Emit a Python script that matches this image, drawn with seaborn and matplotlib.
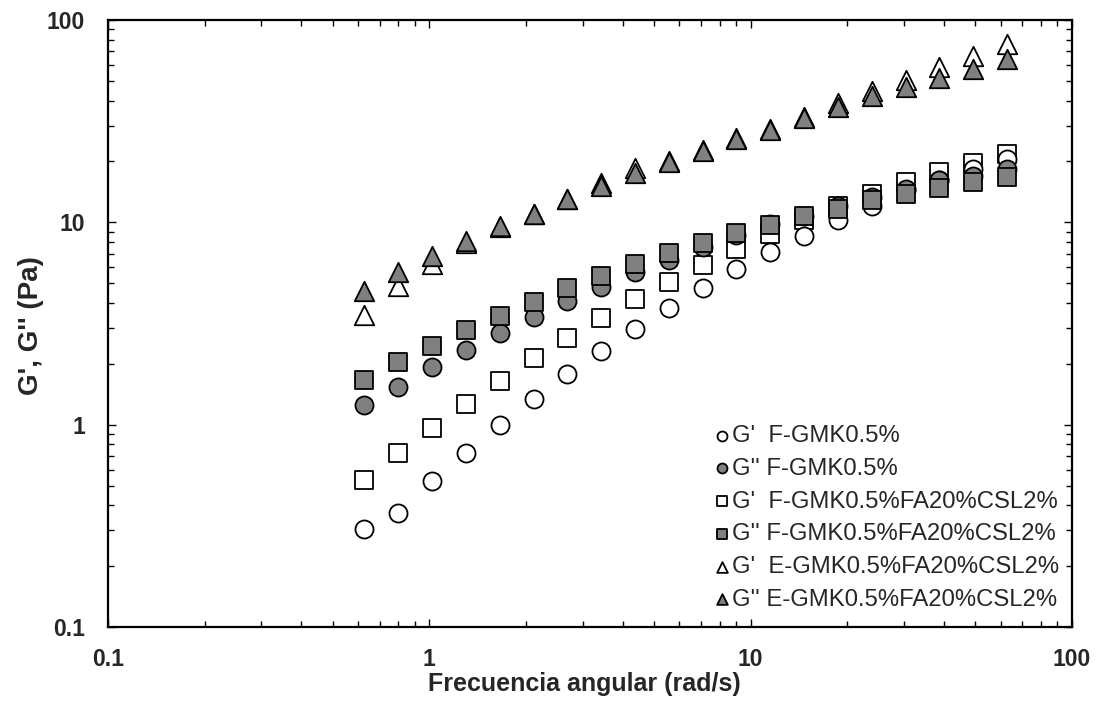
import matplotlib
matplotlib.use("Agg")
import matplotlib.pyplot as plt
import seaborn as sns
from matplotlib.ticker import FixedLocator, FixedFormatter, NullFormatter, LogLocator

# ---- data ----
freq = [0.628, 0.800, 1.020, 1.299, 1.656, 2.110, 2.689, 3.426, 4.366, 5.563,
        7.089, 9.033, 11.51, 14.67, 18.69, 23.82, 30.35, 38.67, 49.28, 62.8]

gp_f = [0.304, 0.364, 0.525, 0.728, 1.00, 1.34, 1.77, 2.32, 2.98, 3.77,
        4.75, 5.86, 7.13, 8.58, 10.3, 12.0, 14.4, 16.2, 18.4, 20.5]
gpp_f = [1.245, 1.54, 1.92, 2.34, 2.84, 3.41, 4.09, 4.80, 5.66, 6.55,
         7.52, 8.62, 9.8, 10.7, 12.0, 13.4, 14.6, 16.2, 17.0, 18.3]
gp_ffa = [0.533, 0.726, 0.968, 1.27, 1.65, 2.13, 2.68, 3.37, 4.16, 5.10,
          6.18, 7.37, 8.78, 10.3, 12.0, 13.8, 15.8, 17.7, 19.7, 21.8]
gpp_ffa = [1.67, 2.03, 2.45, 2.93, 3.45, 4.06, 4.72, 5.46, 6.23, 7.06,
           7.94, 8.87, 9.75, 10.7, 11.7, 12.9, 13.8, 14.8, 15.8, 16.7]
gp_efa = [3.48, 4.85, 6.22, 7.9, 9.5, 11.0, 13.0, 15.6, 18.5, 20.2,
          22.7, 26.1, 29.0, 33.2, 38.9, 44.5, 50.7, 58.6, 66.2, 75.7]
gpp_efa = [4.59, 5.67, 6.83, 8.07, 9.56, 11.0, 13.0, 15.2, 17.5, 19.9,
           22.5, 25.9, 28.7, 32.8, 37.2, 42.2, 46.5, 51.7, 57.4, 63.8]

labels = ["G'  F-GMK0.5%", "G'' F-GMK0.5%", "G'  F-GMK0.5%FA20%CSL2%",
          "G'' F-GMK0.5%FA20%CSL2%", "G'  E-GMK0.5%FA20%CSL2%",
          "G'' E-GMK0.5%FA20%CSL2%"]
x_ticks = [0.1, 1, 10, 100]
x_ticklabels = ["0.1", "1", "10", "100"]
y_ticks = [0.1, 1, 10, 100]
y_ticklabels = ["0.1", "1", "10", "100"]

# ---- style ----
sns.set_style("white")
plt.rcParams["font.family"] = ["Liberation Sans", "DejaVu Sans"]

GREY = "#808080"
fig = plt.figure(figsize=(10.98, 7.11), dpi=100)
ax = fig.add_axes([108 / 1098, 1 - 627 / 711, (1072 - 108) / 1098, (627 - 20) / 711])

# (values, marker, face, size, legend index) in drawing order
series = [
    (gp_ffa, "s", "white", 12.5, 2),
    (gp_f, "o", "white", 13.0, 0),
    (gpp_f, "o", GREY, 13.0, 1),
    (gpp_ffa, "s", GREY, 12.5, 3),
    (gp_efa, "^", "white", 14.0, 4),
    (gpp_efa, "^", GREY, 14.0, 5),
]
handles = [None] * 6
for z, (vals, mk, face, ms, li) in enumerate(series):
    sns.scatterplot(x=freq, y=vals, marker=mk, s=ms ** 2, color=face,
                    edgecolor="black", linewidth=1.3, ax=ax, zorder=3 + z,
                    label=labels[li])
    handles[li] = ax.collections[-1]

ax.set_xscale("log")
ax.set_yscale("log")
ax.set_xlim(0.1, 100)
ax.set_ylim(0.1, 100)

for axis, t, tl in ((ax.xaxis, x_ticks, x_ticklabels), (ax.yaxis, y_ticks, y_ticklabels)):
    axis.set_major_locator(FixedLocator(t))
    axis.set_major_formatter(FixedFormatter(tl))
    axis.set_minor_locator(LogLocator(base=10, subs=range(2, 10), numticks=20))
    axis.set_minor_formatter(NullFormatter())

ax.tick_params(which="both", direction="in", top=True, right=True,
               bottom=True, left=True, width=1.0, color="black")
ax.tick_params(which="major", length=5.5, labelsize=16.5)
ax.tick_params(axis="x", which="major", pad=15)
ax.tick_params(axis="y", which="major", pad=16.5)
ax.tick_params(which="minor", length=4.5)
for lab in ax.get_xticklabels() + ax.get_yticklabels():
    lab.set_fontweight("bold")

for sp in ax.spines.values():
    sp.set_visible(True)
    sp.set_color("black")
    sp.set_linewidth(1.6)

ax.set_xlabel("Frecuencia angular (rad/s)", fontsize=18, fontweight="bold")
ax.set_ylabel("G', G'' (Pa)", fontsize=20, fontweight="bold")
ax.xaxis.set_label_coords((584 - 108) / 964, (627 - 672) / 607)
ax.yaxis.set_label_coords((44 - 108) / 964, 0.497)

leg = ax.legend(handles, labels, loc="upper left",
                bbox_to_anchor=((716 - 108) / 964, (627 - 425) / 607),
                frameon=False, markerscale=0.55, handletextpad=0.15,
                handlelength=0.5, labelspacing=0.45, borderpad=0,
                borderaxespad=0, fontsize=17.2)

fig.savefig("out.png", dpi=100)
